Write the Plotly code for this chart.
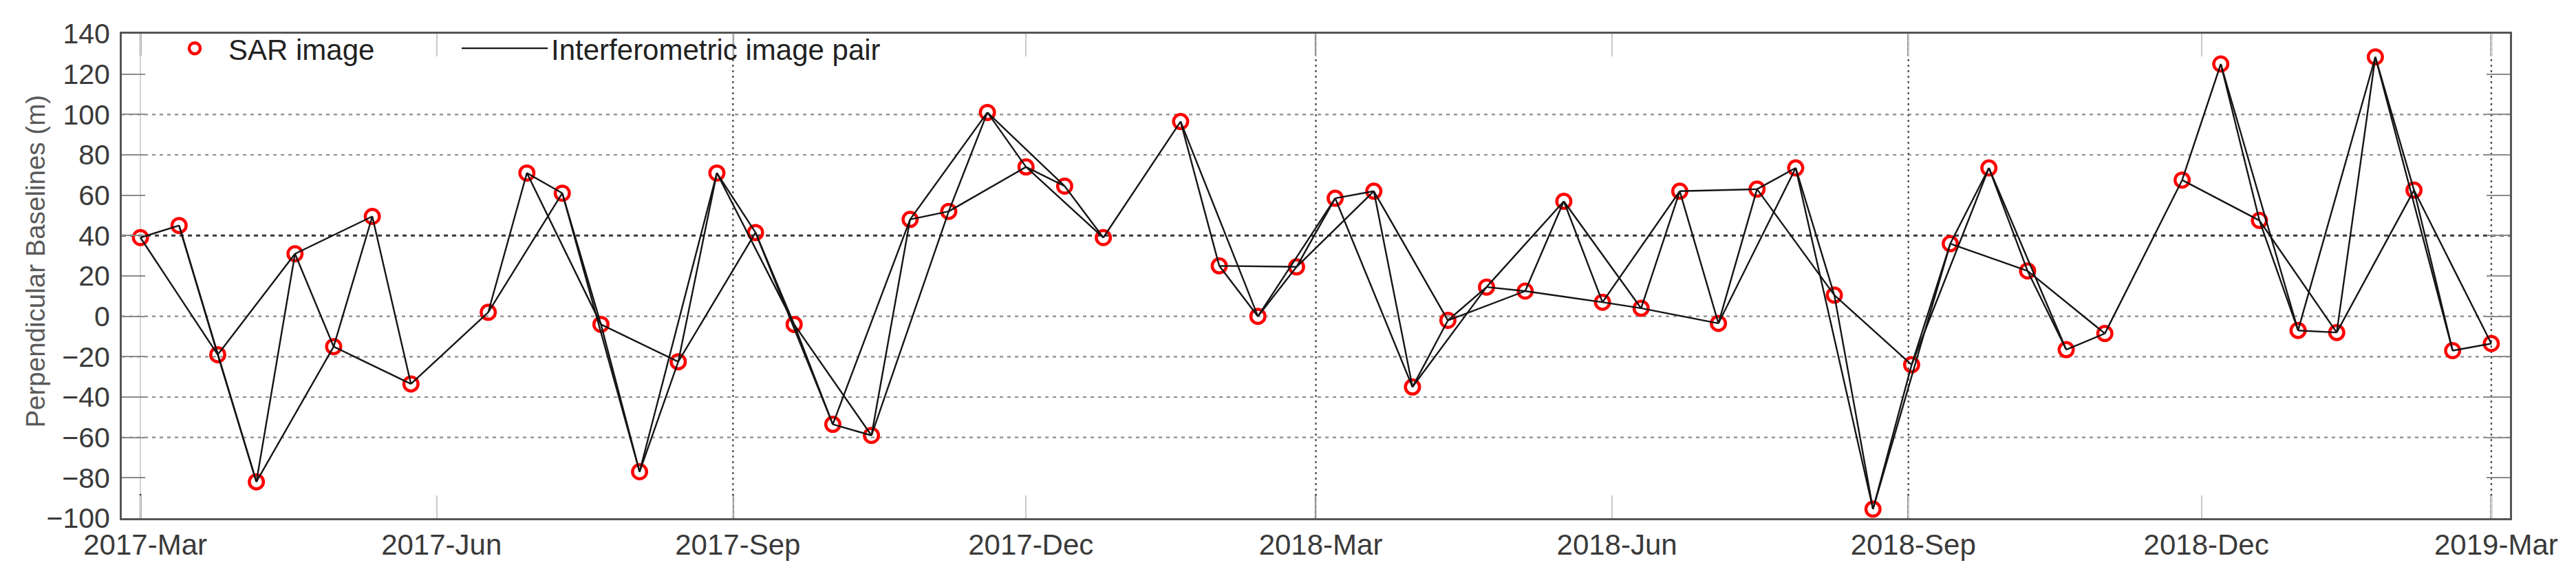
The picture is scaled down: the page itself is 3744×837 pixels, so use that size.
import plotly.graph_objects as go

# ---- data ----
DATES = [
    "2017-03-01", "2017-03-13", "2017-03-25", "2017-04-06", "2017-04-18", "2017-04-30",
    "2017-05-12", "2017-05-24", "2017-06-17", "2017-06-29", "2017-07-10", "2017-07-22",
    "2017-08-03", "2017-08-15", "2017-08-27", "2017-09-08", "2017-09-20", "2017-10-02",
    "2017-10-14", "2017-10-26", "2017-11-07", "2017-11-19", "2017-12-01", "2017-12-13",
    "2017-12-25", "2018-01-18", "2018-01-30", "2018-02-11", "2018-02-23", "2018-03-07",
    "2018-03-19", "2018-03-31", "2018-04-11", "2018-04-23", "2018-05-05", "2018-05-17",
    "2018-05-29", "2018-06-10", "2018-06-22", "2018-07-04", "2018-07-16", "2018-07-28",
    "2018-08-09", "2018-08-21", "2018-09-02", "2018-09-14", "2018-09-26", "2018-10-08",
    "2018-10-20", "2018-11-01", "2018-11-25", "2018-12-07", "2018-12-19", "2018-12-31",
    "2019-01-12", "2019-01-24", "2019-02-05", "2019-02-17", "2019-03-01",
]
BASELINES = [
    39, 45, -19, -82, 31, -15,
    49.5, -33.5, 2, 71, 61, -4,
    -77, -22.5, 71, 41.5, -4, -53.5,
    -59, 48, 52, 101, 74, 64.5,
    39, 96.5, 25, 0, 24.5, 58.5,
    62, -35, -2, 14.5, 12.5, 57,
    7, 4, 62, -3.5, 63, 73.5,
    10.5, -95.5, -24, 36, 73.5, 22.5,
    -16.5, -8.5, 67.5, 125, 47.5, -7,
    -8, 128.5, 62.5, -17, -13.5,
]
# interferometric pairs (indices into DATES / BASELINES)
PAIRS = [
    (0, 1), (0, 2), (1, 2), (1, 3), (2, 3), (2, 4), (3, 4), (3, 5), (4, 5), (4, 6),
    (5, 6), (5, 7), (6, 7), (7, 8), (8, 9), (8, 10), (9, 10), (9, 11), (10, 11), (10, 12),
    (11, 12), (11, 13), (12, 13), (12, 14), (13, 14), (13, 15), (14, 15), (14, 16), (15, 16), (15, 17),
    (16, 17), (16, 18), (17, 18), (17, 19), (18, 19), (18, 20), (19, 20), (19, 21), (20, 21), (20, 22),
    (21, 22), (21, 23), (22, 23), (22, 24), (23, 24), (24, 25), (25, 26), (25, 27), (26, 27), (26, 28),
    (27, 28), (27, 29), (28, 29), (28, 30), (29, 30), (29, 31), (30, 31), (30, 32), (31, 32), (31, 33),
    (32, 33), (32, 34), (33, 34), (33, 35), (34, 35), (34, 36), (35, 36), (35, 37), (36, 37), (36, 38),
    (37, 38), (37, 39), (38, 39), (38, 40), (39, 40), (39, 41), (40, 41), (40, 42), (41, 42), (41, 43),
    (42, 43), (42, 44), (43, 44), (43, 45), (44, 45), (44, 46), (45, 46), (45, 47), (46, 47), (46, 48),
    (47, 48), (47, 49), (48, 49), (49, 50), (50, 51), (50, 52), (51, 52), (51, 53), (52, 53), (52, 54),
    (53, 54), (53, 55), (54, 55), (54, 56), (55, 56), (55, 57), (56, 57), (56, 58), (57, 58),
]

X_TICKS = ["2017-03-01", "2017-06-01", "2017-09-01", "2017-12-01", "2018-03-01",
           "2018-06-01", "2018-09-01", "2018-12-01", "2019-03-01"]
X_TICK_TEXT = ["2017-Mar", "2017-Jun", "2017-Sep", "2017-Dec", "2018-Mar",
               "2018-Jun", "2018-Sep", "2018-Dec", "2019-Mar"]
X_DOTTED = ["2017-09-01", "2018-03-01", "2018-09-01", "2019-03-01"]
X_FAINT = ["2017-03-01"]
Y_TICKS = [-100, -80, -60, -40, -20, 0, 20, 40, 60, 80, 100, 120, 140]
Y_GRID = [100, 80, 0, -20, -40, -60]
Y_GRID_DARK = [40]

# ---- build pair lines ----
lx, ly = [], []
for i, j in PAIRS:
    lx += [DATES[i], DATES[j], None]
    ly += [BASELINES[i], BASELINES[j], None]

fig = go.Figure()
fig.add_trace(go.Scatter(
    x=DATES, y=BASELINES, mode="markers", name="SAR image",
    marker=dict(symbol="circle-open", size=20.5, color="#ff0000",
                line=dict(width=4.5, color="#ff0000")),
    legend="legend",
))
fig.add_trace(go.Scatter(
    x=lx, y=ly, mode="lines", name="Interferometric image pair",
    line=dict(color="#151515", width=2.4), hoverinfo="skip",
    legend="legend2",
))

shapes = []
for v in Y_GRID:
    shapes.append(dict(type="line", xref="paper", yref="y", x0=0, x1=1, y0=v, y1=v,
                       line=dict(color="#8c8c8c", width=2.2, dash="5px,6px"), layer="below"))
for v in Y_GRID_DARK:
    shapes.append(dict(type="line", xref="paper", yref="y", x0=0, x1=1, y0=v, y1=v,
                       line=dict(color="#383838", width=3, dash="6px,6px"), layer="below"))
for d in X_DOTTED:
    shapes.append(dict(type="line", xref="x", yref="paper", x0=d, x1=d, y0=0, y1=1,
                       line=dict(color="#555555", width=2.4, dash="3px,5px"), layer="below"))
    for (a, b) in [(0, 0.05), (0.955, 1)]:
        shapes.append(dict(type="line", xref="x", yref="paper", x0=d, x1=d, y0=a, y1=b,
                           line=dict(color="#444444", width=2.5), layer="below"))
for d in X_FAINT:
    shapes.append(dict(type="line", xref="x", yref="paper", x0=d, x1=d, y0=0, y1=1,
                       line=dict(color="#d4d4d4", width=2), layer="below"))
    for (a, b) in [(0, 0.05), (0.955, 1)]:
        shapes.append(dict(type="line", xref="x", yref="paper", x0=d, x1=d, y0=a, y1=b,
                           line=dict(color="#333333", width=2.5), layer="below"))

FONT = "Liberation Sans, Arial, sans-serif"

fig.update_layout(
    width=3744, height=837,
    margin=dict(l=169, r=104, t=41, b=92, autoexpand=False),
    paper_bgcolor="white", plot_bgcolor="white",
    font=dict(family=FONT, size=41, color="#3a3a3a"),
    shapes=shapes,
    showlegend=True,
    legend=dict(x=0.01642, y=1.018, xanchor="left", yanchor="top",
                bgcolor="rgba(0,0,0,0)", font=dict(size=42, color="#222222"),
                itemwidth=88),
    legend2=dict(x=0.1409, y=1.018, xanchor="left", yanchor="top",
                 bgcolor="rgba(0,0,0,0)", font=dict(size=42, color="#222222"),
                 itemwidth=125),
    annotations=[dict(text="Perpendicular Baselines (m)", textangle=-90,
                      xref="paper", yref="paper", x=-0.0361, y=0.53,
                      xanchor="center", yanchor="middle", showarrow=False,
                      font=dict(size=38.5, color="#5a5a5a"))],
    xaxis=dict(
        type="date", range=["2017-02-23 05:00", "2019-03-06 19:00"],
        tickvals=X_TICKS, ticktext=X_TICK_TEXT,
        ticks="inside", ticklen=33, tickwidth=2, tickcolor="#c8c8c8",
        showgrid=False, zeroline=False,
        showline=True, linecolor="#555555", linewidth=3, mirror="ticks",
        tickfont=dict(size=42, color="#3a3a3a"),
        ticklabelshift=7,
    ),
    yaxis=dict(
        range=[-100, 140], tickvals=Y_TICKS,
        ticks="inside", ticklen=34, tickwidth=2, tickcolor="#8a8a8a",
        showgrid=False, zeroline=False,
        showline=True, linecolor="#555555", linewidth=3, mirror="ticks",
        tickfont=dict(size=41, color="#3a3a3a"),
        ticklabelstandoff=6,
    ),
)

fig.write_html("out.html")
